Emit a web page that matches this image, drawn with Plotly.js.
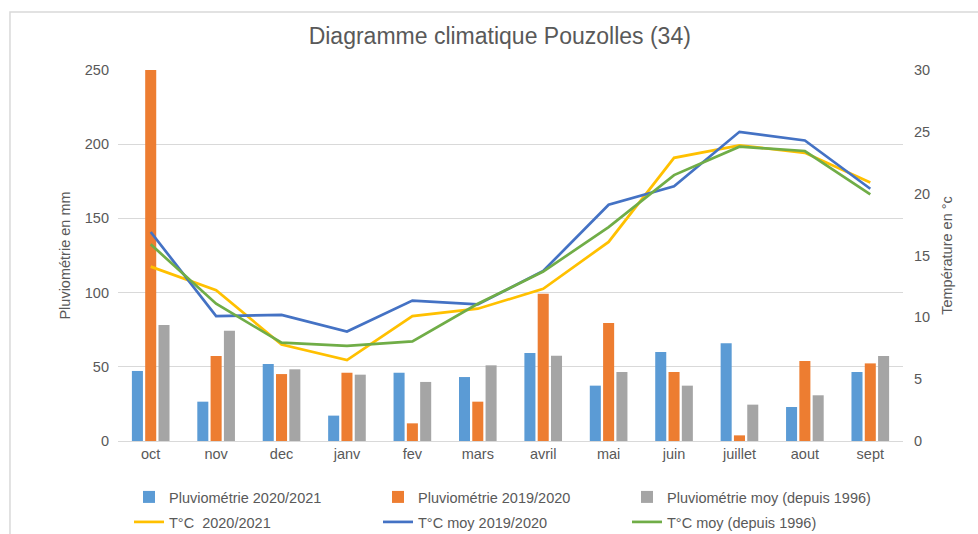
<!DOCTYPE html>
<html>
<head>
<meta charset="utf-8">
<script src="https://cdn.plot.ly/plotly-3.0.1.min.js"></script>
<style>html,body{margin:0;padding:0;background:#fff;}#chart{width:978px;height:534px;}</style>
</head>
<body>
<div id="chart"></div>
<script>
const months = ["oct","nov","dec","janv","fev","mars","avril","mai","juin","juillet","aout","sept"];
const pluie2021 = [47.2, 26.5, 51.9, 17.1, 46.0, 43.1, 59.3, 37.3, 60.0, 65.8, 22.9, 46.5];
const pluie1920 = [250, 57.3, 45.1, 46.0, 11.9, 26.5, 99.3, 79.5, 46.5, 3.8, 53.9, 52.3];
const pluieMoy  = [78.2, 74.3, 48.3, 44.7, 39.8, 51.0, 57.5, 46.5, 37.3, 24.5, 30.8, 57.3];
const temp2021  = [14.1, 12.2, 7.8, 6.55, 10.1, 10.7, 12.3, 16.1, 22.9, 23.9, 23.3, 20.9];
const temp1920  = [16.9, 10.1, 10.2, 8.85, 11.35, 11.05, 13.75, 19.1, 20.6, 25.0, 24.3, 20.4];
const tempMoy   = [15.9, 11.1, 7.95, 7.7, 8.05, 11.1, 13.7, 17.3, 21.5, 23.8, 23.45, 19.95];
const names = ["Pluviométrie 2020/2021","Pluviométrie 2019/2020","Pluviométrie moy (depuis 1996)",
               "T°C  2020/2021","T°C moy 2019/2020","T°C moy (depuis 1996)"];

const F = "Liberation Sans, Arial, sans-serif";
const grey = "#595959";
const traces = [
  {type:"bar", x:months, y:pluie2021, name:names[0], marker:{color:"#5B9BD5"}, legend:"legend"},
  {type:"bar", x:months, y:pluie1920, name:names[1], marker:{color:"#ED7D31"}, legend:"legend"},
  {type:"bar", x:months, y:pluieMoy,  name:names[2], marker:{color:"#A5A5A5"}, legend:"legend"},
  {type:"scatter", mode:"lines", x:months, y:temp2021, yaxis:"y2", name:names[3], line:{color:"#FFC000", width:2.7}, legend:"legend2"},
  {type:"scatter", mode:"lines", x:months, y:temp1920, yaxis:"y2", name:names[4], line:{color:"#4472C4", width:2.7}, legend:"legend2"},
  {type:"scatter", mode:"lines", x:months, y:tempMoy,  yaxis:"y2", name:names[5], line:{color:"#70AD47", width:2.7}, legend:"legend2"}
];

const legendBase = {orientation:"h", xref:"paper", yref:"container", x:0.014, xanchor:"left", yanchor:"middle",
  entrywidth:204, entrywidthmode:"pixels", font:{size:14.5, color:grey}, bgcolor:"rgba(0,0,0,0)", traceorder:"normal"};

const layout = {
  width:978, height:534,
  margin:{l:118, r:75, t:70, b:93},
  paper_bgcolor:"#fff", plot_bgcolor:"#fff",
  font:{family:F, size:14.5, color:grey},
  title:{text:"Diagramme climatique Pouzolles (34)", font:{family:F, size:23, color:grey}, x:0.511, xanchor:"center", y:0.933, yanchor:"middle"},
  barmode:"group", bargap:0.39, bargroupgap:0.17,
  xaxis:{type:"category", showgrid:false, showline:true, linecolor:"#d9d9d9", ticks:"", tickfont:{size:14.5, color:grey}},
  yaxis:{range:[0,250], tickvals:[0,50,100,150,200,250], showgrid:true, gridcolor:"#d9d9d9", zeroline:false,
         ticks:"", ticklabelstandoff:8, tickfont:{size:14.5, color:grey}, automargin:true,
         title:{text:"Pluviométrie en mm", standoff:10, font:{size:14.5, color:grey}}},
  yaxis2:{range:[0,30], tickvals:[0,5,10,15,20,25,30], overlaying:"y", side:"right", showgrid:false, zeroline:false,
          ticks:"", ticklabelstandoff:10, tickfont:{size:14.5, color:grey}, automargin:true,
          title:{text:"Température en °c", standoff:12, font:{size:14.5, color:grey}}},
  showlegend:true,
  legend:Object.assign({}, legendBase, {y:0.0693}),
  legend2:Object.assign({}, legendBase, {y:0.0225}),
  shapes:[{type:"rect", xref:"paper", yref:"paper", x0:-0.1376, x1:1.3, y0:-0.6, y1:1.1563, line:{color:"#d9d9d9", width:1.5}, fillcolor:"rgba(0,0,0,0)", layer:"below"}]
};
Plotly.newPlot("chart", traces, layout, {displayModeBar:false, staticPlot:true});
</script>
</body>
</html>
